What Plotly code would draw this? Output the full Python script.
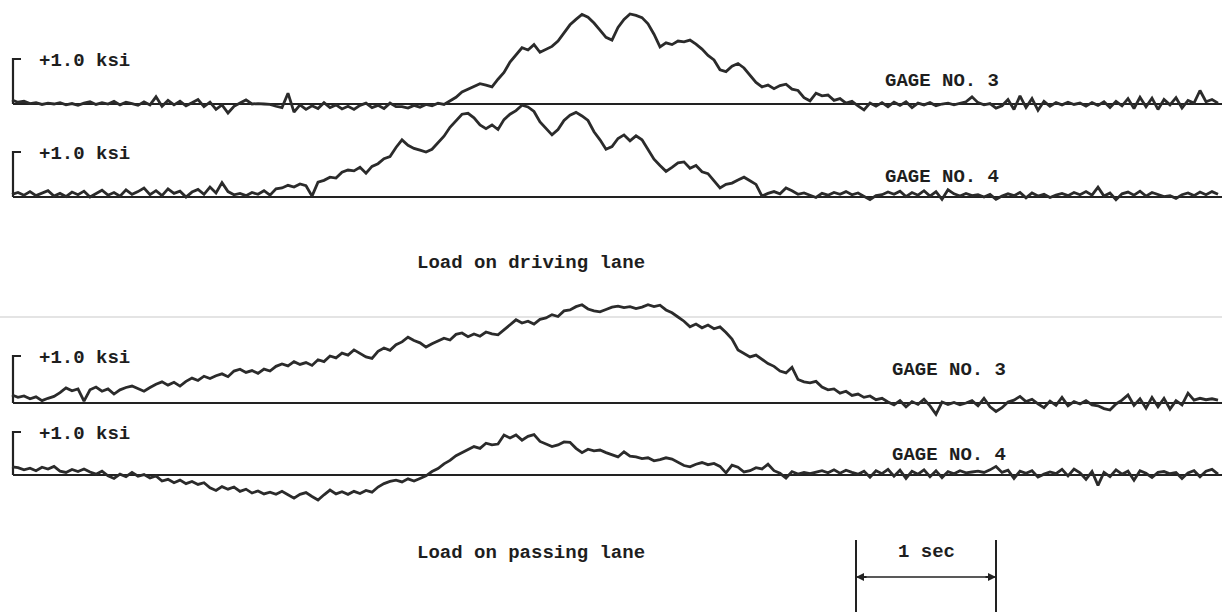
import plotly.graph_objects as go

# ---------------- data (ksi, sampled every DT seconds) ----------------
DT = 3.0 / 70.0  # sample interval, s

driving_gage3 = [
    0.09, 0.04, 0.06, 0.01, 0.03, -0.01, 0.02, 0.00, 0.03, -0.02,
    0.01, -0.03, 0.02, 0.05, -0.01, 0.03, 0.00, 0.06, -0.02, 0.04,
    0.01, -0.03, 0.05, -0.02, 0.16, -0.05, 0.08, -0.02, 0.06, -0.04,
    0.03, 0.10, -0.06, 0.04, -0.12, -0.02, -0.20, -0.05, 0.02, 0.09,
    0.00, 0.01, 0.00, -0.01, -0.05, -0.08, 0.24, -0.18, -0.02, -0.12,
    -0.04, -0.10, 0.03, -0.08, -0.02, -0.11, -0.05, -0.12, -0.03, 0.02,
    -0.08, -0.03, -0.10, 0.02, -0.06,
    -0.06, -0.09, -0.03, -0.07, -0.01, -0.04, 0.02, -0.01, 0.08, 0.15,
    0.27, 0.33, 0.40, 0.45, 0.42, 0.38, 0.55, 0.70, 0.93, 1.08,
    1.25, 1.20, 1.32, 1.15, 1.22, 1.28, 1.40, 1.58, 1.76, 1.88,
    1.99, 1.93, 1.80, 1.64, 1.48, 1.42, 1.70, 1.88, 2.00, 1.97,
    1.92, 1.78, 1.55, 1.27, 1.36, 1.32, 1.40, 1.38, 1.42, 1.33,
    1.22, 1.08, 0.98, 0.76, 0.72, 0.84, 0.90, 0.80, 0.64, 0.48,
    0.38, 0.42, 0.34, 0.41, 0.44, 0.33, 0.30, 0.14, 0.07, 0.24,
    0.18, 0.20, 0.08, 0.12, 0.02, 0.06, -0.04, -0.13, 0.02, -0.05,
    0.03,
    -0.06, 0.04, -0.03, 0.05, -0.08, 0.02, -0.02, 0.03, -0.04, 0.00,
    0.02, -0.02, 0.01, 0.05, 0.16, 0.03, -0.02, 0.01, -0.09, -0.04,
    0.10, -0.12, 0.18, -0.08, 0.12, -0.14, 0.06, -0.05, 0.03, -0.02,
    0.04, -0.01, 0.02, -0.05, 0.03, -0.03, 0.05, -0.08, 0.06, -0.04,
    0.12, -0.10, 0.15, -0.06, 0.13, -0.12, 0.10, -0.02, 0.14, -0.09,
    0.08, 0.02, 0.30, 0.05, 0.10, 0.02,
]

driving_gage4 = [
    0.06, 0.10, 0.04, 0.12, 0.03, 0.09, 0.14, 0.02, 0.08, 0.01,
    0.11, 0.05, 0.13, 0.00, 0.07, 0.15, 0.04, 0.10, 0.02, 0.16,
    0.06, 0.12, 0.20, 0.05, 0.14, 0.03, 0.18, 0.08, 0.13, 0.00,
    0.11, 0.17, 0.06, 0.22, 0.09, 0.32, 0.12, 0.05, 0.08, 0.03,
    0.10, 0.06, 0.14, 0.04, 0.18,
    0.20, 0.26, 0.22, 0.29, 0.25, 0.02, 0.33, 0.37, 0.44, 0.42,
    0.55, 0.60, 0.58, 0.66, 0.53, 0.68, 0.74, 0.85, 0.90, 1.10,
    1.27, 1.15, 1.08, 1.04, 1.00, 1.06, 1.20, 1.35, 1.55, 1.70,
    1.84, 1.86, 1.76, 1.60, 1.52, 1.60, 1.50, 1.72, 1.84, 1.92,
    2.04, 2.00, 1.90, 1.67, 1.52, 1.38, 1.50, 1.70, 1.82, 1.88,
    1.80, 1.70, 1.45, 1.27, 1.06, 1.12, 1.30, 1.38, 1.25, 1.36,
    1.27, 1.05, 0.84, 0.70, 0.57, 0.66, 0.76, 0.78, 0.64, 0.70,
    0.56, 0.52, 0.36, 0.20, 0.28, 0.31, 0.38, 0.44, 0.36, 0.28,
    0.02, 0.08, 0.12, 0.07, 0.20, 0.14, 0.06, 0.09, 0.04, -0.01,
    0.08, 0.04, 0.10, 0.06, 0.12, 0.05, 0.09, 0.02, -0.06, 0.03,
    0.05, 0.11, 0.06, 0.13, 0.01, 0.10, 0.04, 0.14, 0.02, 0.12,
    -0.05, 0.16, 0.07, 0.02, 0.08, 0.03, 0.05, 0.00, 0.06, -0.05,
    0.02, 0.07, 0.03, 0.10, -0.02, 0.09, 0.02, 0.06, -0.01, 0.04,
    0.08, 0.03, 0.10, 0.05, 0.12, 0.04, 0.22, 0.02, 0.09, -0.06,
    0.07, 0.11, 0.04, 0.13, 0.02, 0.10, 0.06, 0.01, 0.03, -0.03,
    0.05, 0.09, 0.03, 0.11, 0.05, 0.12, 0.06,
]

passing_gage3 = [
    0.17, 0.12, 0.15, 0.09, 0.13, 0.05, 0.10, 0.14, 0.22, 0.32,
    0.26, 0.30, 0.04, 0.28, 0.34, 0.25, 0.30, 0.19, 0.28, 0.33,
    0.36, 0.30, 0.25, 0.33, 0.40, 0.45, 0.38, 0.44, 0.36, 0.46,
    0.53, 0.48, 0.57, 0.52, 0.58, 0.62, 0.56, 0.68, 0.72, 0.65,
    0.69, 0.63, 0.72, 0.68, 0.78, 0.83, 0.79, 0.88, 0.82, 0.86,
    0.80, 0.92, 0.88, 1.00, 0.96, 1.06, 1.02, 1.13, 1.05, 0.98,
    0.95, 1.10, 1.17, 1.12, 1.24, 1.30, 1.40, 1.33, 1.28, 1.19,
    1.26, 1.32, 1.38, 1.34, 1.46, 1.49, 1.41, 1.47, 1.42, 1.51,
    1.47, 1.45, 1.55, 1.66, 1.77, 1.70, 1.74, 1.68, 1.78, 1.81,
    1.88, 1.84, 1.96, 1.98, 2.05, 2.09, 2.00, 1.96, 1.94, 1.99,
    2.04, 2.06, 2.03, 2.05, 2.01, 2.04, 2.09, 2.05, 2.08, 1.98,
    1.92, 1.83, 1.74, 1.62, 1.68, 1.60, 1.66, 1.58, 1.62, 1.50,
    1.36, 1.13, 1.05, 0.98, 1.02, 0.92, 0.84, 0.78, 0.68, 0.64,
    0.76, 0.50, 0.45, 0.43, 0.46, 0.34, 0.28, 0.30, 0.21, 0.25,
    0.16, 0.19, 0.12, 0.15, 0.07, 0.10, 0.02, -0.04, 0.05, -0.08,
    0.03, -0.03, 0.08, -0.06, -0.24, 0.02, -0.03, 0.01, -0.04, 0.00,
    0.05, -0.06, 0.10, -0.08, -0.18, -0.10, 0.02, 0.06, 0.14, 0.03,
    0.08, -0.02, -0.10, 0.04, -0.05, 0.12, -0.06, 0.03, -0.02, 0.05,
    -0.04, -0.06, -0.12, -0.15, -0.02, 0.06, 0.17, -0.05, 0.09, -0.11,
    0.12, -0.08, 0.10, -0.13, 0.05, -0.04, 0.21, 0.06, 0.10, 0.07,
    0.09, 0.06,
]

passing_gage4 = [
    0.19, 0.17, 0.12, 0.16, 0.10, 0.18, 0.14, 0.20, 0.09, 0.06,
    0.13, 0.08, 0.14, 0.07, 0.02, 0.09, -0.02, -0.08, 0.02, -0.04,
    0.06, -0.03, 0.01, -0.07, -0.02, -0.14, -0.10, -0.18, -0.12, -0.20,
    -0.15, -0.22, -0.18, -0.30, -0.36, -0.27, -0.33, -0.28, -0.38, -0.33,
    -0.42, -0.37, -0.44, -0.40, -0.45, -0.38, -0.46, -0.54, -0.45, -0.41,
    -0.50, -0.58, -0.46, -0.35, -0.44, -0.39, -0.45, -0.38, -0.43, -0.36,
    -0.40, -0.28, -0.20, -0.15, -0.12, -0.16, -0.09, -0.14, -0.08, -0.02,
    0.08, 0.15, 0.26, 0.34, 0.45, 0.52, 0.58, 0.66, 0.62, 0.74,
    0.70, 0.72, 0.93, 0.86, 0.93, 0.81, 0.90, 0.94, 0.78, 0.72,
    0.66, 0.70, 0.77, 0.76, 0.62, 0.52, 0.60, 0.56, 0.58, 0.52,
    0.47, 0.42, 0.54, 0.44, 0.42, 0.38, 0.40, 0.33, 0.36, 0.40,
    0.37, 0.30, 0.22, 0.19, 0.25, 0.29, 0.24, 0.27, 0.20, 0.05,
    0.23, 0.18, 0.07, 0.10, 0.17, 0.14, 0.25, 0.10, 0.04, -0.07,
    0.08, 0.02, 0.06, 0.03, 0.07,
    0.10, 0.05, 0.12, 0.04, 0.11, 0.06, 0.02, 0.09, -0.05, 0.10,
    0.03, 0.13, -0.03, 0.11, -0.08, 0.09, 0.02, 0.12, -0.04, 0.10,
    -0.06, 0.08, 0.03, 0.10, 0.05, 0.07, 0.09, 0.06, 0.12, 0.20,
    0.06, 0.11, -0.08, 0.09, 0.04, 0.10, -0.05, 0.02, 0.07, 0.03,
    0.13, -0.02, 0.14, 0.05, -0.10, 0.08, -0.24, 0.06, -0.04, 0.12,
    0.02, 0.09, -0.12, 0.10, 0.04, -0.06, 0.06, 0.08, 0.03, 0.06,
    -0.08, 0.05, 0.10, -0.04, 0.09, 0.13, 0.02,
]

gage_labels = ["GAGE NO. 3", "GAGE NO. 4", "GAGE NO. 3", "GAGE NO. 4"]
scale_label = "+1.0 ksi"
section_titles = ["Load on driving lane", "Load on passing lane"]
time_bar_label = "1 sec"

series = [driving_gage3, driving_gage4, passing_gage3, passing_gage4]

# ---------------- layout helpers (pixel geometry of the 1222x612 page) ----------------
W, H = 1222, 612
X0_PX, PX_PER_SEC = 12, 140.0
# (baseline pixel row, pixels per ksi, label y in ksi, label x px)
panels = [
    (104, 45.0, 0.51, 883),
    (197, 45.0, 0.44, 883),
    (403, 47.0, 0.70, 890),
    (475, 43.0, 0.46, 890),
]

def px_to_t(px):
    return (px - X0_PX) / PX_PER_SEC

INK = "#2b2b2b"
FONT = dict(family="Liberation Mono, DejaVu Sans Mono, monospace", size=19,
            color="#1e1e1e", weight="bold")

fig = go.Figure()
layout_axes = {}
annotations = []
t_end = px_to_t(W)

for k, (vals, (base, s, lab_y, lab_x)) in enumerate(zip(series, panels)):
    yname = "y" if k == 0 else f"y{k+1}"
    axkey = "yaxis" if k == 0 else f"yaxis{k+1}"
    t = [i * DT for i in range(len(vals))]
    # baseline
    fig.add_trace(go.Scatter(x=[px_to_t(13), t_end], y=[0, 0], mode="lines",
                             line=dict(color="#222", width=1.8), yaxis=yname,
                             hoverinfo="skip", showlegend=False))
    # +1.0 ksi bracket
    fig.add_trace(go.Scatter(x=[px_to_t(21), px_to_t(13), px_to_t(13)], y=[1.0, 1.0, 0.0],
                             mode="lines", line=dict(color="#222", width=2.2), yaxis=yname,
                             hoverinfo="skip", showlegend=False))
    # record trace
    fig.add_trace(go.Scatter(x=t, y=vals, mode="lines",
                             line=dict(color=INK, width=2.8), yaxis=yname,
                             showlegend=False))
    ax = dict(visible=False, range=[(base - H) / s, base / s], domain=[0, 1], fixedrange=True)
    if k > 0:
        ax["overlaying"] = "y"
    layout_axes[axkey] = ax
    annotations.append(dict(x=px_to_t(37), y=1.0, xref="x", yref=yname, text=scale_label,
                            showarrow=False, xanchor="left", yanchor="middle", yshift=-2, font=FONT))
    annotations.append(dict(x=px_to_t(lab_x), y=lab_y, xref="x", yref=yname, text=gage_labels[k],
                            showarrow=False, xanchor="left", yanchor="middle", font=FONT))

# section captions
for title, ypx in zip(section_titles, [263, 553]):
    annotations.append(dict(x=415 / W, y=1 - ypx / H, xref="paper", yref="paper", text=title,
                            showarrow=False, xanchor="left", yanchor="middle", font=FONT))

# 1-second time bar
tb0 = px_to_t(856)
tb1 = tb0 + 1.0
shapes = []
for tb in (tb0, tb1):
    shapes.append(dict(type="line", xref="x", yref="paper", x0=tb, x1=tb,
                       y0=1 - 540 / H, y1=0, line=dict(color="#222", width=2)))
shapes.append(dict(type="line", xref="x", yref="paper", x0=tb0, x1=tb1,
                   y0=1 - 577 / H, y1=1 - 577 / H, line=dict(color="#222", width=1.6)))
for xh, axpx in ((tb0, 12), (tb1, -12)):
    annotations.append(dict(x=xh, y=1 - 577 / H, xref="x", yref="paper", ax=axpx, ay=0,
                            showarrow=True, arrowhead=2, arrowsize=0.8, arrowwidth=2,
                            arrowcolor="#222", text=""))
annotations.append(dict(x=(tb0 + tb1) / 2, y=1 - 552 / H, xref="x", yref="paper",
                        text=time_bar_label, showarrow=False, xanchor="center",
                        yanchor="middle", font=FONT))

# faint scan fold line
shapes.append(dict(type="line", xref="paper", yref="paper", x0=0, x1=1,
                   y0=1 - 317 / H, y1=1 - 317 / H, line=dict(color="#e4e4e4", width=2),
                   layer="below"))

fig.update_layout(
    width=W, height=H, margin=dict(l=0, r=0, t=0, b=0),
    paper_bgcolor="white", plot_bgcolor="white",
    xaxis=dict(visible=False, range=[px_to_t(0), t_end], fixedrange=True),
    annotations=annotations, shapes=shapes, showlegend=False,
    **layout_axes,
)

fig.write_html("out.html", config={"displayModeBar": False, "staticPlot": True},
               post_script="document.body.style.margin='0px';document.body.style.overflow='hidden';")
